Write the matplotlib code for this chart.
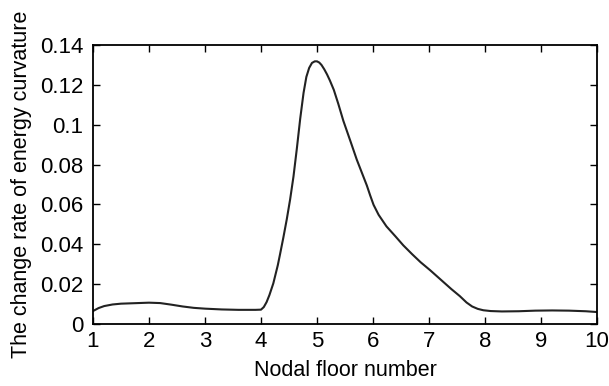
import matplotlib
matplotlib.use("Agg")
import matplotlib.pyplot as plt

# data
floor = [1.0, 1.1, 1.2, 1.35, 1.5, 1.8, 2.0, 2.2, 2.4, 2.6, 2.8, 3.0, 3.3, 3.6, 3.9, 4.0,
         4.05, 4.1, 4.15, 4.22, 4.3, 4.34, 4.4, 4.46, 4.52, 4.58, 4.64, 4.7, 4.76,
         4.81, 4.86, 4.91, 4.96, 5.0, 5.04, 5.08, 5.13, 5.18, 5.23, 5.3, 5.38,
         5.47, 5.6, 5.71, 5.8, 5.89, 5.95, 6.01, 6.1, 6.24, 6.4, 6.54, 6.7,
         6.85, 7.02, 7.2, 7.4, 7.55, 7.67, 7.77, 7.87, 7.97, 8.1, 8.3, 8.6,
         8.9, 9.2, 9.5, 9.8, 10.0]
rate = [0.0065, 0.0080, 0.0090, 0.0098, 0.0102, 0.0105, 0.0107, 0.0105, 0.0097,
        0.0088, 0.0081, 0.0077, 0.0073, 0.0071, 0.0071, 0.0072,
        0.0085, 0.0110, 0.0145, 0.0204, 0.0295, 0.0350, 0.0435, 0.0525, 0.0625,
        0.0740, 0.0880, 0.1030, 0.1160,
        0.1240, 0.1285, 0.1310, 0.1318, 0.1318, 0.1312, 0.1300, 0.1278,
        0.1252, 0.1222, 0.1175, 0.1105,
        0.1020, 0.0915, 0.0825, 0.0760, 0.0695, 0.0645, 0.0598, 0.0548,
        0.0490, 0.0440, 0.0395, 0.0350,
        0.0310, 0.0270, 0.0225, 0.0175, 0.0140, 0.0108, 0.0088, 0.0076,
        0.0069, 0.0065, 0.0063, 0.0064,
        0.0067, 0.0068, 0.0067, 0.0064, 0.0060]
xticks = [1, 2, 3, 4, 5, 6, 7, 8, 9, 10]
yticks = [0, 0.02, 0.04, 0.06, 0.08, 0.1, 0.12, 0.14]
ytick_labels = ["0", "0.02", "0.04", "0.06", "0.08", "0.1", "0.12", "0.14"]

plt.rcParams['font.family'] = ['Liberation Sans', 'DejaVu Sans']

fig = plt.figure(figsize=(6.09, 3.86), dpi=100)
ax = fig.add_axes([93 / 609, 62 / 386, 504 / 609, 279 / 386])

ax.plot(floor, rate, color='#222222', lw=1.5)

ax.set_xlim(1, 10)
ax.set_ylim(0, 0.14)
ax.set_xticks(xticks)
ax.set_yticks(yticks)
ax.set_yticklabels(ytick_labels)
ax.tick_params(direction='in', top=True, right=True, length=5, width=1,
               labelsize=16)
ax.tick_params(axis='x', pad=5)
ax.tick_params(axis='y', pad=7)
for s in ax.spines.values():
    s.set_linewidth(1.3)

ax.set_xlabel("Nodal floor number", fontsize=15.5, labelpad=6)
ax.set_ylabel("The change rate of energy curvature", fontsize=15.5, labelpad=6)

fig.savefig("out.png", dpi=100)
